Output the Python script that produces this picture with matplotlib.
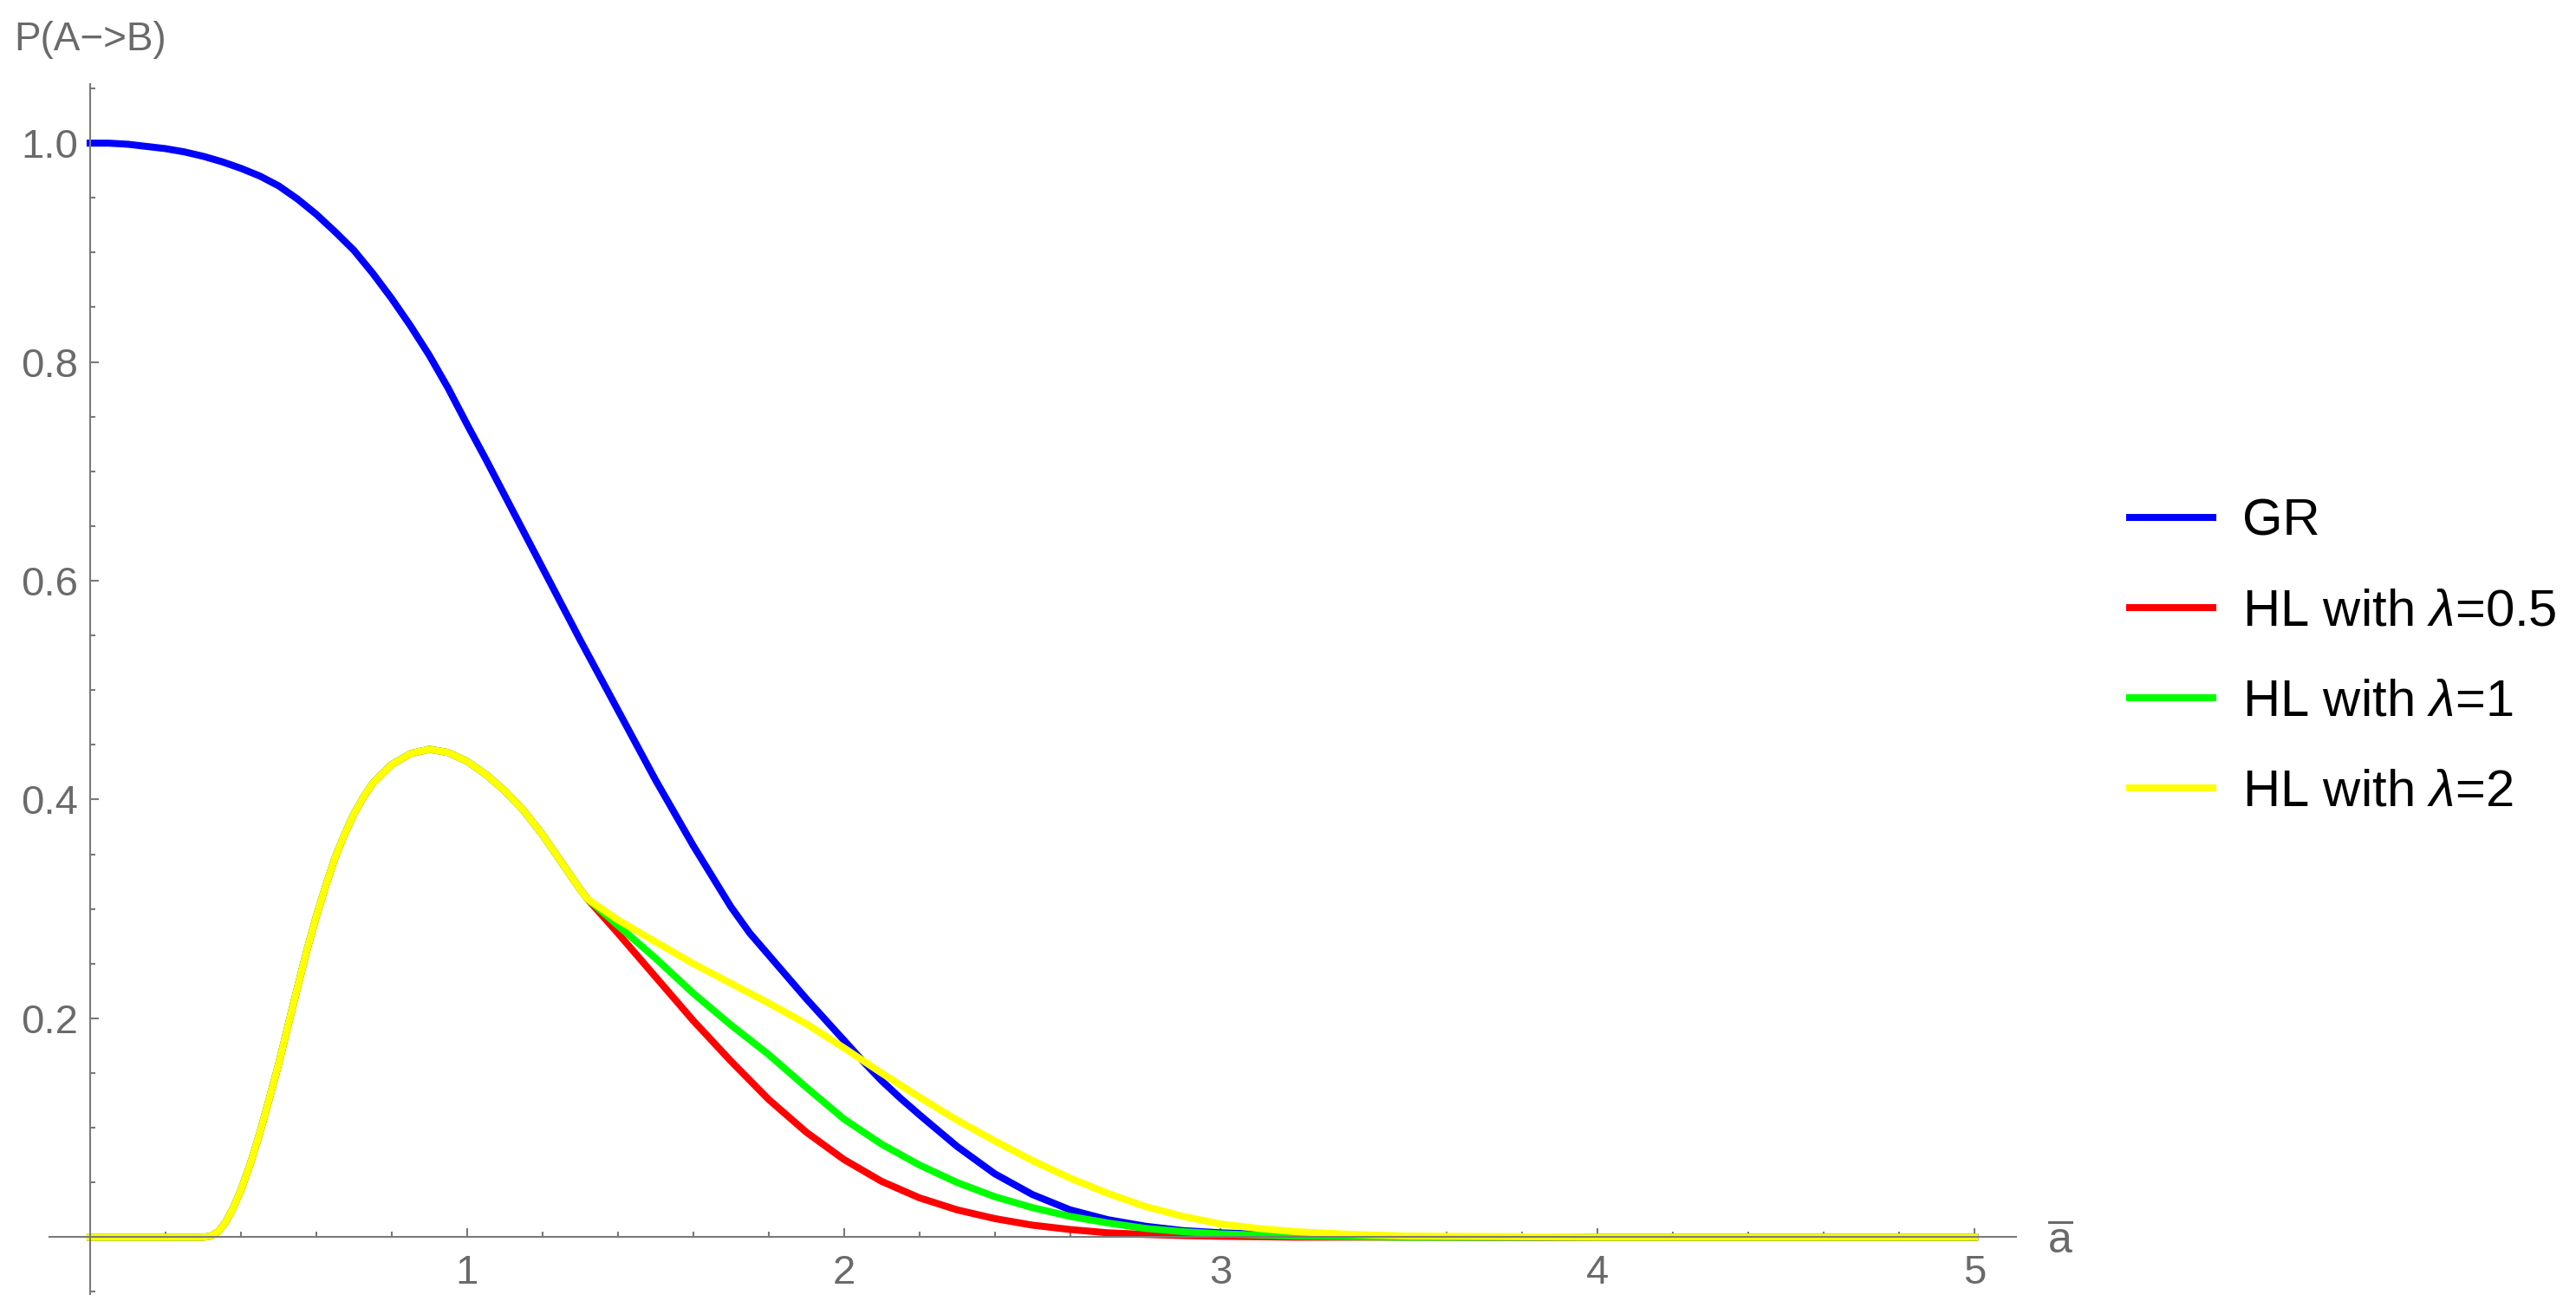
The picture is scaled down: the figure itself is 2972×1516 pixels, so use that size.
import matplotlib
matplotlib.use("Agg")
import matplotlib.pyplot as plt
from matplotlib.ticker import FixedLocator, FormatStrFormatter

# GR curve
x_gr = [0.0, 0.05, 0.1, 0.15, 0.2, 0.25, 0.3, 0.35, 0.4, 0.45, 0.5, 0.55, 0.6, 0.65,
        0.7, 0.75, 0.8, 0.85, 0.9, 0.95, 1.0, 1.05, 1.1, 1.15, 1.2, 1.3, 1.4, 1.5,
        1.6, 1.7, 1.75, 1.8, 1.85, 1.9, 1.95, 2.0, 2.05, 2.1, 2.15, 2.2, 2.3, 2.4,
        2.5, 2.6, 2.7, 2.8, 2.9, 3.0, 3.2, 3.4, 3.7, 4.0, 5.0]
p_gr = [1.0, 1.0, 0.999, 0.997, 0.995, 0.992, 0.988, 0.983, 0.977, 0.970, 0.961,
        0.949, 0.935, 0.919, 0.902, 0.881, 0.858, 0.833, 0.806, 0.776, 0.743, 0.711,
        0.678, 0.645, 0.612, 0.546, 0.482, 0.418, 0.358, 0.302, 0.278, 0.258, 0.238,
        0.218, 0.199, 0.180, 0.161, 0.143, 0.127, 0.112, 0.083, 0.058, 0.039, 0.025,
        0.016, 0.010, 0.006, 0.004, 0.0015, 0.0005, 0.0, 0.0, 0.0]

# HL curves share the same bump up to a ~ 1.32
x_hl_common = [0.0, 0.3, 0.32, 0.34, 0.36, 0.38, 0.4, 0.425, 0.45, 0.475, 0.5, 0.525,
               0.55, 0.575, 0.6, 0.625, 0.65, 0.675, 0.7, 0.725, 0.75, 0.8, 0.85, 0.9,
               0.95, 1.0, 1.05, 1.1, 1.15, 1.2, 1.25, 1.3, 1.32]
p_hl_common = [0.0, 0.0, 0.001, 0.005, 0.014, 0.027, 0.043, 0.067, 0.095, 0.126, 0.158,
               0.193, 0.228, 0.262, 0.293, 0.321, 0.347, 0.368, 0.387, 0.402, 0.415,
               0.432, 0.442, 0.446, 0.443, 0.435, 0.423, 0.408, 0.390, 0.368, 0.343,
               0.318, 0.309]

# tails after the split
x_tail = [1.4, 1.5, 1.6, 1.7, 1.8, 1.9, 2.0, 2.1, 2.2, 2.3, 2.4, 2.5, 2.6, 2.7, 2.8,
          2.9, 3.0, 3.1, 3.2, 3.35, 3.5, 4.0, 5.0]
p_tail_05 = [0.278, 0.238, 0.198, 0.161, 0.126, 0.096, 0.071, 0.051, 0.036, 0.025,
             0.017, 0.011, 0.007, 0.004, 0.0025, 0.0015, 0.0008, 0.0004, 0.0, 0.0,
             0.0, 0.0, 0.0]
p_tail_1 = [0.285, 0.255, 0.223, 0.194, 0.167, 0.137, 0.108, 0.085, 0.066, 0.050,
            0.037, 0.027, 0.019, 0.013, 0.008, 0.005, 0.003, 0.002, 0.001, 0.0005,
            0.0, 0.0, 0.0]
p_tail_2 = [0.290, 0.270, 0.250, 0.232, 0.214, 0.195, 0.173, 0.150, 0.128, 0.107,
            0.088, 0.070, 0.054, 0.040, 0.028, 0.019, 0.012, 0.008, 0.005, 0.0025,
            0.001, 0.0, 0.0]

labels = ["GR", r"HL with $\lambda$=0.5", r"HL with $\lambda$=1", r"HL with $\lambda$=2"]
colors = ["#0000ff", "#ff0000", "#00ff00", "#ffff00"]

W, H = 2972, 1516
GRAY = "#6a6a6a"
AXIS_GRAY = "#7a7a7a"


def createPlot():
    plt.rcParams["font.family"] = "Liberation Sans"
    plt.rcParams["mathtext.fontset"] = "custom"
    plt.rcParams["mathtext.rm"] = "Liberation Sans"
    plt.rcParams["mathtext.it"] = "Liberation Sans:italic"

    fig = plt.figure(figsize=(W / 100, H / 100), dpi=100)
    ax = fig.add_axes([57 / W, 1 - 1493 / H, (2326 - 57) / W, (1493 - 97) / H])

    lw = 5.8
    ax.plot(x_gr, p_gr, color=colors[0], lw=lw, label=labels[0])
    tails = [p_tail_05, p_tail_1, p_tail_2]
    for i in range(3):
        ax.plot(x_hl_common + x_tail, p_hl_common + tails[i],
                color=colors[i + 1], lw=lw, label=labels[i + 1])

    ax.set_xlim(-0.108, 5.11)
    ax.set_ylim(-0.052, 1.054)

    for s in ["top", "right"]:
        ax.spines[s].set_visible(False)
    ax.spines["left"].set_position(("data", 0))
    ax.spines["bottom"].set_position(("data", 0))
    for s in ["left", "bottom"]:
        ax.spines[s].set_color(AXIS_GRAY)
        ax.spines[s].set_linewidth(1.5)

    ax.xaxis.set_major_locator(FixedLocator([1, 2, 3, 4, 5]))
    ax.xaxis.set_minor_locator(FixedLocator([i * 0.2 for i in range(1, 25) if i % 5 != 0]))
    ax.xaxis.set_major_formatter(FormatStrFormatter("%d"))
    ax.yaxis.set_major_locator(FixedLocator([0.2, 0.4, 0.6, 0.8, 1.0]))
    ax.yaxis.set_minor_locator(FixedLocator([i * 0.05 for i in range(-1, 22) if i % 4 != 0]))
    ax.yaxis.set_major_formatter(FormatStrFormatter("%.1f"))

    ax.tick_params(which="both", direction="in", color=AXIS_GRAY, width=1.5,
                   labelcolor=GRAY, labelsize=34)
    ax.tick_params(which="major", length=7.2)
    ax.tick_params(which="minor", length=4.3)
    ax.tick_params(axis="x", which="major", pad=14)
    ax.tick_params(axis="y", which="major", pad=10)

    fig.text(16 / W, 1 - 58 / H, "P(A\u2212>B)", color=GRAY, fontsize=33,
             ha="left", va="baseline")
    fig.text(2377 / W, 1 - 1432 / H, r"$\overline{\mathrm{a}}$", color=GRAY,
             fontsize=36, ha="center", va="center")

    ax.legend(loc="center left", bbox_to_anchor=(2457 / W, 1 - 758 / H),
              bbox_transform=fig.transFigure, frameon=False, fontsize=43,
              borderpad=0, borderaxespad=0, handlelength=1.6, handletextpad=0.58,
              labelspacing=0.82)
    for line in ax.get_legend().get_lines():
        line.set_linewidth(5.8)

    fig.savefig("out.png", dpi=100)


def main():
    createPlot()


if __name__ == "__main__":
    main()
